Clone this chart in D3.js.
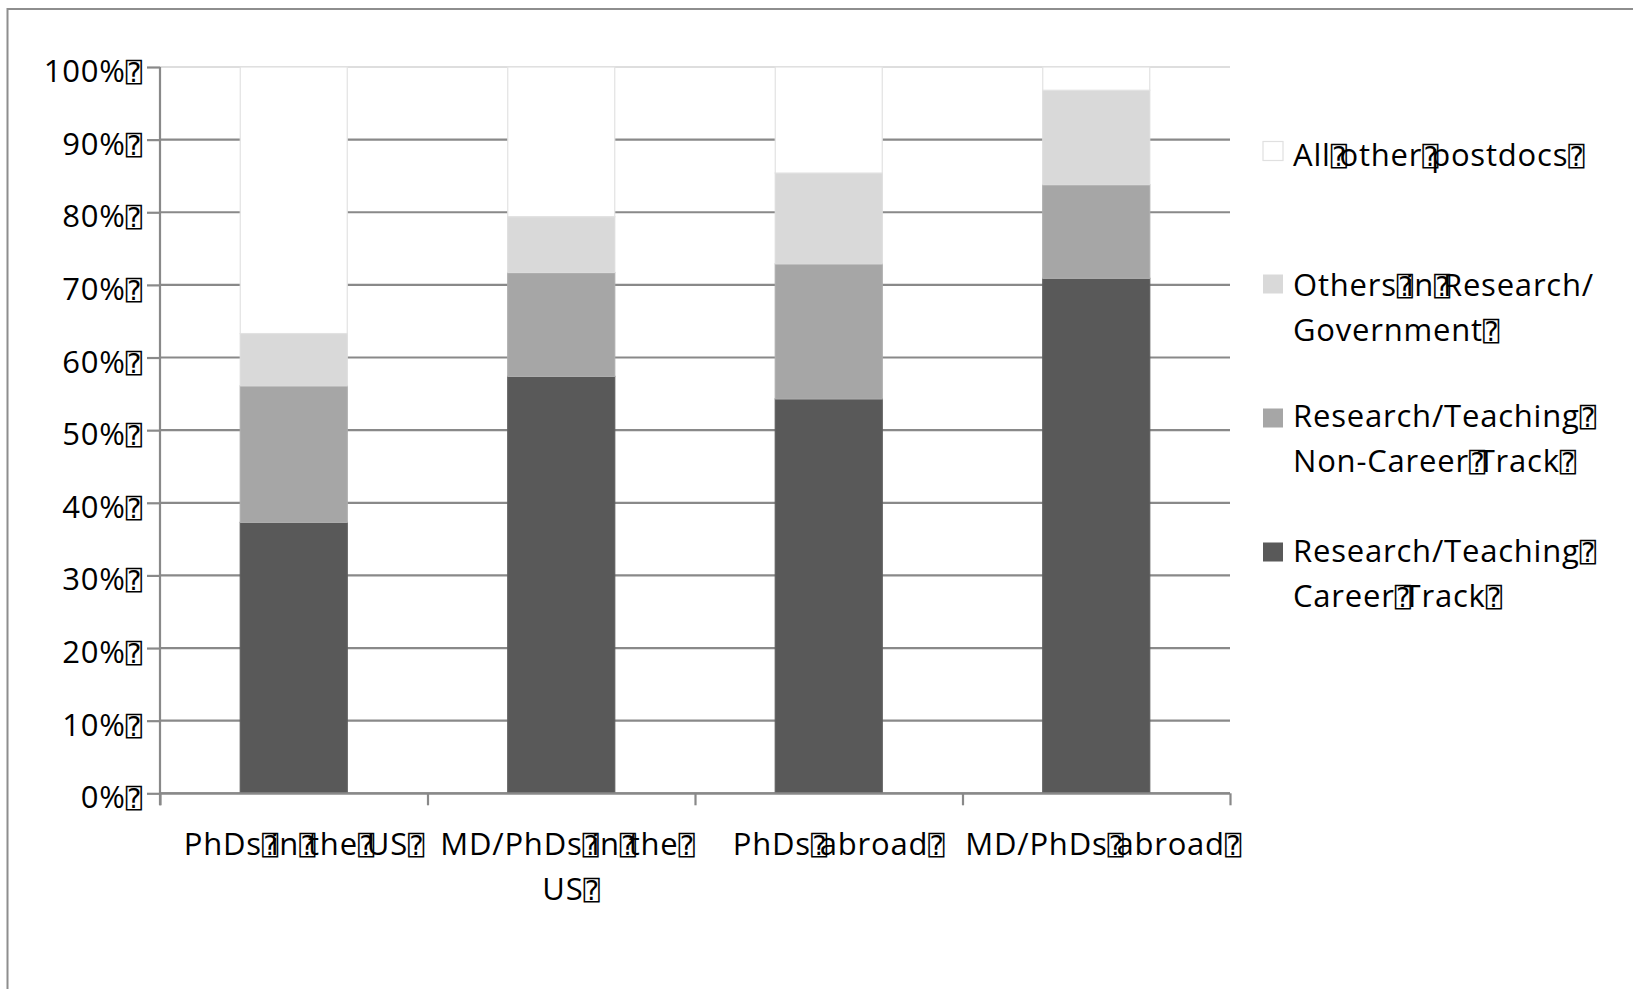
<!DOCTYPE html>
<html>
<head>
<meta charset="utf-8">
<script src="https://cdn.jsdelivr.net/npm/d3@7"></script>
<style>
  html, body { margin: 0; padding: 0; background: #fff; }
  svg { display: block; }
  .lbl { font-family: "Open Sans", sans-serif; font-size: 31px; letter-spacing: 0.8px; fill: #000; }
  .box { font-family: "DejaVu Sans Mono", "DejaVu Sans", monospace; font-size: 27px; letter-spacing: 0; }
</style>
</head>
<body>
<svg id="chart" width="1633" height="989"></svg>
<script>
// Missing-glyph box that stands in for each space in the source text
const BOX = "\u2370";

// Categories (x axis), each split into its wrapped lines
const categoryLines = [
  ["PhDs" + BOX + "in" + BOX + "the" + BOX + "US" + BOX],
  ["MD/PhDs" + BOX + "in" + BOX + "the" + BOX, "US" + BOX],
  ["PhDs" + BOX + "abroad" + BOX],
  ["MD/PhDs" + BOX + "abroad" + BOX]
];
const categories = categoryLines.map(l => l.join(""));

// Share of postdocs (%) in each outcome, bottom to top of each bar
const careerTrack    = [37.3, 57.4, 54.3, 70.9];
const nonCareerTrack = [18.8, 14.3, 18.6, 12.9];
const othersResearch = [7.2, 7.7, 12.5, 13.0];
const allOther       = [36.7, 20.6, 14.6, 3.2];

// Series names (legend lines) in stacking order
const seriesKeys = ["career", "nonCareer", "others", "allOther"];
const seriesLabels = [
  ["Research/Teaching" + BOX, "Career" + BOX + "Track" + BOX],
  ["Research/Teaching" + BOX, "Non-Career" + BOX + "Track" + BOX],
  ["Others" + BOX + "in" + BOX + "Research/", "Government" + BOX],
  ["All" + BOX + "other" + BOX + "postdocs" + BOX]
];
const seriesColors = ["#595959", "#a6a6a6", "#d9d9d9", "#ffffff"];
const seriesStrokes = ["#5f5f5f", "#adadad", "#dcdcdc", "#e2e2e2"];

// Y axis tick values and labels
const yTickValues = [0, 10, 20, 30, 40, 50, 60, 70, 80, 90, 100];
const yTickLabels = yTickValues.map(v => v + "%" + BOX);

// Layout
const plot = { left: 160, right: 1230, top: 67, bottom: 793.3 };
const labelStartOffsets = [[-110], [-121, -19], [-96], [-131]];
const legend = { x: 1263, textX: 1293, tops: [542, 408, 274, 141], firstBaselines: [561.7, 426.7, 295.7, 166], lineGap: 45 };

const svg = d3.select("#chart");

const rows = categories.map((c, i) => ({
  category: c,
  career: careerTrack[i],
  nonCareer: nonCareerTrack[i],
  others: othersResearch[i],
  allOther: allOther[i]
}));

const x = d3.scaleBand().domain(categories).range([plot.left, plot.right])
  .paddingInner(0.6).paddingOuter(0.3);
const xEdge = d3.scaleLinear().domain([0, categories.length]).range([plot.left, plot.right]);
const y = d3.scaleLinear().domain([0, 100]).range([plot.bottom, plot.top]);

// Frame around the chart
svg.append("rect")
  .attr("x", 7.5).attr("y", 9).attr("width", 1700).attr("height", 1100)
  .attr("fill", "none").attr("stroke", "#8e8e8e").attr("stroke-width", 2);

// Measure the box glyph and a space so each box takes only a space's advance
const probe = svg.append("text").attr("class", "lbl");
const boxProbe = probe.append("tspan").attr("class", "box").text(BOX);
const boxW = boxProbe.node().getComputedTextLength();
boxProbe.remove();
probe.text("a a");
const aa = probe.node().getComputedTextLength();
probe.text("aa");
const spaceW = aa - probe.node().getComputedTextLength();
probe.remove();

function richText(sel, str) {
  const parts = str.split(BOX);
  parts.forEach((p, i) => {
    if (p.length) {
      const t = sel.append("tspan").text(p);
      if (i > 0) t.attr("dx", spaceW - boxW);
    }
    if (i < parts.length - 1) {
      const b = sel.append("tspan").attr("class", "box").text(BOX);
      if (i > 0 && !p.length) b.attr("dx", spaceW - boxW);
    }
  });
}

// Gridlines
svg.append("g").selectAll("line").data(yTickValues).join("line")
  .attr("x1", plot.left).attr("x2", plot.right)
  .attr("y1", d => y(d)).attr("y2", d => y(d))
  .attr("stroke", d => d === 100 ? "#dedede" : "#898989")
  .attr("stroke-width", 2.2);

// Stacked bars
const stack = d3.stack().keys(seriesKeys)(rows);
svg.append("g").selectAll("g").data(stack).join("g")
  .attr("fill", (d, i) => seriesColors[i])
  .attr("stroke", (d, i) => seriesStrokes[i])
  .attr("stroke-width", 1.2)
  .selectAll("rect").data(d => d).join("rect")
  .attr("x", d => x(d.data.category))
  .attr("width", x.bandwidth())
  .attr("y", d => y(d[1]))
  .attr("height", d => y(d[0]) - y(d[1]));

// Y axis
const yAxis = svg.append("g").attr("transform", `translate(${plot.left},0)`)
  .call(d3.axisLeft(y).tickValues(yTickValues).tickSize(13).tickPadding(5)
    .tickFormat((d, i) => yTickLabels[i]));
yAxis.select(".domain").attr("d", `M0,${plot.top}V${plot.bottom + 12}`);
yAxis.selectAll("path, line").attr("stroke", "#898989").attr("stroke-width", 2.2);
yAxis.selectAll(".tick text")
  .attr("class", "lbl")
  .attr("font-family", null).attr("font-size", null)
  .attr("dy", "0.47em")
  .attr("x", -18)
  .each(function (d, i) {
    const t = d3.select(this);
    t.text(null);
    richText(t, yTickLabels[i]);
  });

// X axis (ticks on category boundaries)
const xAxis = svg.append("g").attr("transform", `translate(0,${plot.bottom})`)
  .call(d3.axisBottom(xEdge).ticks(categories.length).tickSize(12).tickFormat(""));
xAxis.select(".domain").attr("d", `M${plot.left},0H${plot.right}`);
xAxis.selectAll("path, line").attr("stroke", "#898989").attr("stroke-width", 2.2);

// Category labels
categoryLines.forEach((lines, i) => {
  const cx = x(categories[i]) + x.bandwidth() / 2;
  lines.forEach((line, j) => {
    const t = svg.append("text").attr("class", "lbl")
      .attr("x", cx + labelStartOffsets[i][j])
      .attr("y", 855 + j * 45);
    richText(t, line);
  });
});

// Legend
const lg = svg.append("g");
seriesKeys.forEach((k, i) => {
  lg.append("rect")
    .attr("x", legend.x).attr("y", legend.tops[i] + 0.5)
    .attr("width", 20).attr("height", 19)
    .attr("fill", seriesColors[i])
    .attr("stroke", i === 3 ? "#e0e0e0" : "none").attr("stroke-width", 1.2);
  seriesLabels[i].forEach((line, j) => {
    const t = lg.append("text").attr("class", "lbl")
      .attr("x", legend.textX)
      .attr("y", legend.firstBaselines[i] + j * legend.lineGap);
    richText(t, line);
  });
});
</script>
</body>
</html>
